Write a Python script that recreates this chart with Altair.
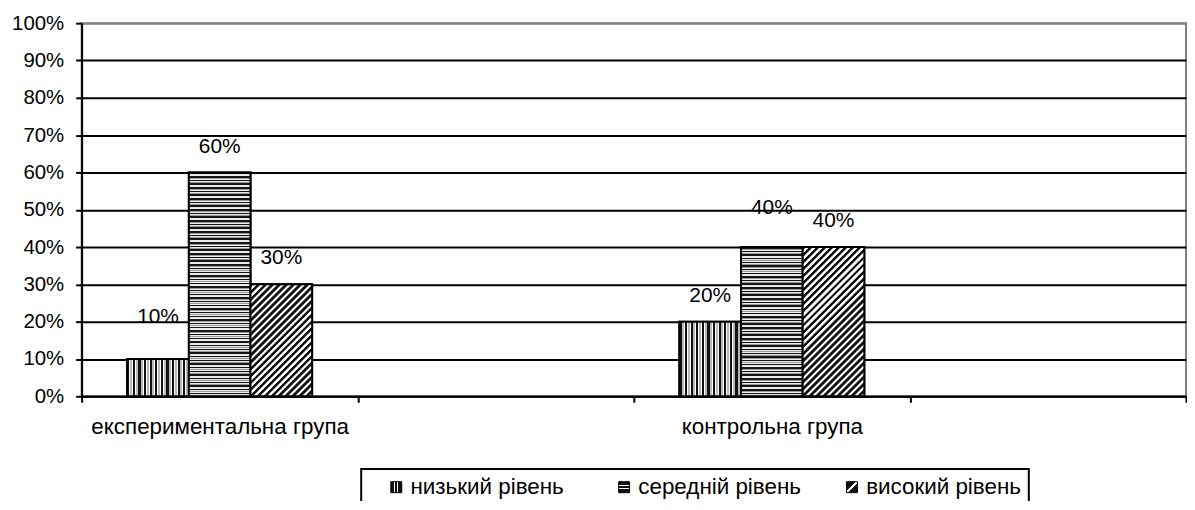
import altair as alt
import pandas as pd

# ---------------- data ----------------
groups = ["експериментальна група", "контрольна група"]
x_domain = ["експериментальна група", "", "контрольна група", " "]
levels = ["низький рівень", "середній рівень", "високий рівень"]
low_vals = [0.10, 0.20]
mid_vals = [0.60, 0.40]
high_vals = [0.30, 0.40]
y_tick_values = [0.0, 0.1, 0.2, 0.3, 0.4, 0.5, 0.6, 0.7, 0.8, 0.9, 1.0]

series = {levels[0]: low_vals, levels[1]: mid_vals, levels[2]: high_vals}
rows = []
for lvl in levels:
    for g, v in zip(groups, series[lvl]):
        rows.append({"group": g, "level": lvl, "value": v})
df = pd.DataFrame(rows)

# ---------------- style ----------------
FONT = "Liberation Sans"
W, H = 1110, 375
PAD_OUTER = 0.74
BAR_W = (W / len(x_domain)) / (len(levels) + 2 * PAD_OUTER)


def stripe_stops(n, pattern):
    stops = []
    for i in range(n):
        prev = 0.0
        for end, col in pattern:
            stops.append({"offset": round((i + prev) / n, 5), "color": col})
            stops.append({"offset": round((i + end) / n, 5), "color": col})
            prev = end
    return stops


def pattern_fill(level, value):
    h = value * H
    w = BAR_W
    if level == levels[0]:  # vertical stripes
        n = max(1, round(w / 5.6))
        return {"gradient": "linear", "x1": 0, "y1": 0, "x2": 1, "y2": 0,
                "stops": stripe_stops(n, [(0.38, "#111111"), (0.5, "#ffffff"),
                                          (0.85, "#b8b8b8"), (1.0, "#ffffff")])}
    if level == levels[1]:  # horizontal stripes
        n = max(1, round(h / 3.7))
        return {"gradient": "linear", "x1": 0, "y1": 0, "x2": 0, "y2": 1,
                "stops": stripe_stops(n, [(0.42, "#151515"), (0.62, "#e6e6e6"),
                                          (0.8, "#9a9a9a"), (1.0, "#eeeeee")])}
    # diagonal stripes "/"
    c = (w + h) / (w * w + h * h)
    n = max(1, round((w + h) / 7.0))
    return {"gradient": "linear", "x1": 0, "y1": 0, "x2": c * w, "y2": c * h,
            "stops": stripe_stops(n, [(0.42, "#111111"), (0.55, "#888888"),
                                      (0.9, "#ffffff"), (1.0, "#888888")])}


def legend_swatch_expr(x1, y1, x2, y2, segs):
    parts = []
    prev = 0.0
    for end, col in segs:
        parts.append("{offset: %s, color: '%s'}" % (prev, col))
        parts.append("{offset: %s, color: '%s'}" % (end, col))
        prev = end
    return {"expr": "{gradient: 'linear', x1: %s, y1: %s, x2: %s, y2: %s, stops: [%s]}"
                    % (x1, y1, x2, y2, ", ".join(parts))}


swatch_segs = [(0.3, "#111111"), (0.42, "#ffffff"), (0.58, "#111111"), (0.7, "#ffffff"), (1.0, "#111111")]
legend_range = [
    legend_swatch_expr(0, 0, 1, 0, swatch_segs),
    legend_swatch_expr(0, 0, 0, 1, swatch_segs),
    legend_swatch_expr(0, 0, 1, 1, [(0.42, "#111111"), (0.58, "#ffffff"), (1.0, "#111111")]),
]

x_enc = alt.X(
    "group:N",
    scale=alt.Scale(domain=x_domain, paddingInner=0, paddingOuter=0),
    axis=alt.Axis(
        title=None, labelAngle=0, tickBand="extent", labelOverlap=False,
        labelLimit=500, labelFont=FONT, labelFontSize=22.5, labelColor="black",
        labelPadding=13, domainColor="black", domainWidth=2,
        tickColor="black", tickWidth=2, tickSize=6,
    ),
)
xo_enc = alt.XOffset("level:N", scale=alt.Scale(domain=levels, paddingInner=0, paddingOuter=PAD_OUTER))
y_enc = alt.Y(
    "value:Q",
    scale=alt.Scale(domain=[0, 1], nice=False),
    axis=alt.Axis(
        title=None, values=y_tick_values, format=".0%", grid=True,
        gridColor={"condition": {"test": "datum.value >= 1", "value": "#808080"}, "value": "black"},
        gridWidth=2, domainColor="black", domainWidth=2,
        tickColor="black", tickWidth=2, tickSize=6, labelPadding=12,
        labelFont=FONT, labelFontSize=20.5, labelColor="black",
    ),
)

base = alt.Chart(df)


def build(legend_stroke_width=True):
    legend_kw = dict(
        title=None, orient="none", legendX=281, legendY=448,
        direction="horizontal", columns=3, symbolType="square", symbolSize=121,
        symbolStrokeColor="black", symbolStrokeWidth=1, symbolOffset=17,
        labelOffset=3, labelFont=FONT, labelFontSize=22.5, labelColor="black",
        labelLimit=500, padding=7, strokeColor="black", fillColor="white",
        columnPadding=22, gridAlign="all",
    )
    bars = base.mark_bar(stroke="black", strokeWidth=2).encode(
        x=x_enc, xOffset=xo_enc, y=y_enc,
        color=alt.Color("level:N", scale=alt.Scale(domain=levels, range=legend_range),
                        legend=alt.Legend(**legend_kw)),
    )
    layers = [bars]
    for lvl in levels:
        for g, v in zip(groups, series[lvl]):
            layers.append(
                base.transform_filter((alt.datum.group == g) & (alt.datum.level == lvl))
                .mark_bar(fill=pattern_fill(lvl, v), stroke="black", strokeWidth=2)
                .encode(x=x_enc, xOffset=xo_enc, y=y_enc)
            )
    # value labels (Excel placed two of them a bit higher)
    special = {(groups[0], levels[0]): -42, (groups[1], levels[1]): -39}
    cond_normal = None
    for (g, lvl), dy in special.items():
        t = (alt.datum.group == g) & (alt.datum.level == lvl)
        layers.append(
            base.transform_filter(t)
            .mark_text(font=FONT, fontSize=21, color="black", baseline="middle", dy=dy)
            .encode(x=x_enc, xOffset=xo_enc, y=y_enc, text=alt.Text("value:Q", format=".0%"))
        )
        cond_normal = ~t if cond_normal is None else (cond_normal & ~t)
    layers.append(
        base.transform_filter(cond_normal)
        .mark_text(font=FONT, fontSize=21, color="black", baseline="middle", dy=-26)
        .encode(x=x_enc, xOffset=xo_enc, y=y_enc, text=alt.Text("value:Q", format=".0%"))
    )
    chart = alt.layer(*layers).properties(
        width=W, height=H,
        autosize=alt.AutoSizeParams(type="none"),
        padding={"left": 74, "top": 14, "right": 1, "bottom": 104},
        background="white",
    ).configure_view(stroke="#808080", strokeWidth=2)
    if legend_stroke_width:
        chart = chart.configure_legend(strokeWidth=2)
    return chart


try:
    chart = build(True)
    chart.to_dict()
except Exception:
    chart = build(False)

chart.save("out.html", embed_options={"renderer": "svg", "actions": False})
